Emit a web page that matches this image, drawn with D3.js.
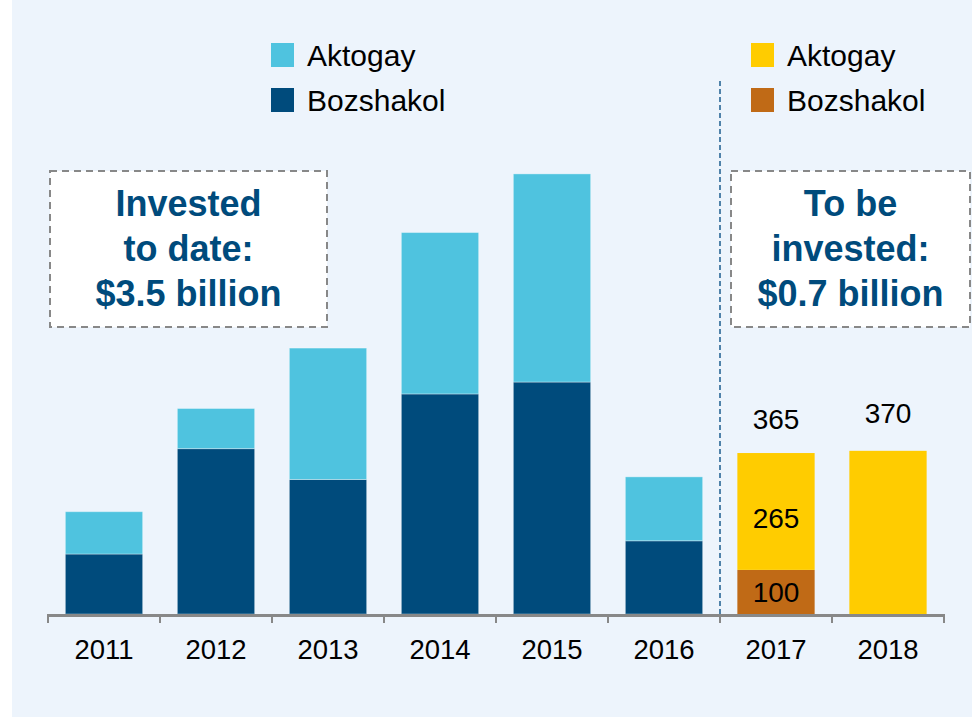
<!DOCTYPE html>
<html>
<head>
<meta charset="utf-8">
<script src="https://cdn.jsdelivr.net/npm/d3@7"></script>
<style>
  html, body { margin: 0; padding: 0; background: #ffffff; }
  svg { display: block; }
  text { font-family: "Liberation Sans", Arial, Helvetica, sans-serif; }
</style>
</head>
<body>
<svg id="chart" width="972" height="717"></svg>
<script>
// ---- data ----
const years = ["2011", "2012", "2013", "2014", "2015", "2016", "2017", "2018"];
const bozshakol = [136, 375, 305, 499, 526, 166, 100, 0];
const aktogay   = [96, 91, 298, 366, 472, 145, 265, 370];
const totalLabels = [null, null, null, null, null, null, "365", "370"];
const segmentLabelsBoz = [null, null, null, null, null, null, "100", null];
const segmentLabelsAkt = [null, null, null, null, null, null, "265", null];
const legendLeft = ["Aktogay", "Bozshakol"];
const legendRight = ["Aktogay", "Bozshakol"];
const boxLeftLines = ["Invested", "to date:", "$3.5 billion"];
const boxRightLines = ["To be", "invested:", "$0.7 billion"];
const forecastFrom = "2017";

// ---- styles ----
const colors = {
  bg: "#edf4fc",
  akt: "#4fc3df",
  boz: "#004b7c",
  aktF: "#ffcc00",
  bozF: "#c06a16",
  axis: "#888888",
  boxText: "#004b7c",
  divider: "#1b5c8e"
};

const svg = d3.select("#chart");
svg.append("rect").attr("x", 12).attr("y", 0).attr("width", 960).attr("height", 717).attr("fill", colors.bg);

const baseY = 614;
const x = d3.scaleBand().domain(years).range([48, 944]).paddingInner(0.31).paddingOuter(0.155);
const y = d3.scaleLinear().domain([0, 1000]).range([baseY, baseY - 441]);

const rows = years.map((yr, i) => ({
  year: yr, boz: bozshakol[i], akt: aktogay[i],
  forecast: years.indexOf(yr) >= years.indexOf(forecastFrom), i
}));
const stack = d3.stack().keys(["boz", "akt"])(rows);

// bars
stack.forEach(layer => {
  svg.append("g").selectAll("rect").data(layer).join("rect")
    .filter(d => d[1] - d[0] > 0)
    .attr("x", d => x(d.data.year))
    .attr("width", x.bandwidth())
    .attr("y", d => y(d[1]))
    .attr("height", d => y(d[0]) - y(d[1]))
    .attr("fill", d => layer.key === "boz"
      ? (d.data.forecast ? colors.bozF : colors.boz)
      : (d.data.forecast ? colors.aktF : colors.akt))
    .attr("stroke", d => d.data.forecast ? "none" : "rgba(255,255,255,0.35)")
    .attr("stroke-width", 1);
});

// segment labels
const labelFont = "28px";
rows.forEach(r => {
  if (segmentLabelsBoz[r.i]) {
    svg.append("text").attr("x", x(r.year) + x.bandwidth() / 2).attr("y", 602)
      .attr("text-anchor", "middle").attr("font-size", labelFont).attr("fill", "#000")
      .text(segmentLabelsBoz[r.i]);
  }
  if (segmentLabelsAkt[r.i]) {
    svg.append("text").attr("x", x(r.year) + x.bandwidth() / 2)
      .attr("y", (y(r.boz) + y(r.boz + r.akt)) / 2 + 17)
      .attr("text-anchor", "middle").attr("font-size", labelFont).attr("fill", "#000")
      .text(segmentLabelsAkt[r.i]);
  }
  if (totalLabels[r.i]) {
    svg.append("text").attr("x", x(r.year) + x.bandwidth() / 2)
      .attr("y", y(r.boz + r.akt) - (r.boz > 0 ? 24 : 28))
      .attr("text-anchor", "middle").attr("font-size", labelFont).attr("fill", "#000")
      .text(totalLabels[r.i]);
  }
});

// axis
const step = x.step();
const boundaries = years.map(yr => x(yr) - x.paddingInner() * step / 2).concat([x(years[years.length - 1]) + x.bandwidth() + x.paddingInner() * step / 2]);
const axisG = svg.append("g");
axisG.selectAll("line.tick").data(boundaries).join("line")
  .attr("x1", d => d).attr("x2", d => d).attr("y1", baseY).attr("y2", baseY + 9)
  .attr("stroke", colors.axis).attr("stroke-width", 2);
axisG.append("line").attr("x1", boundaries[0] - 1).attr("x2", boundaries[boundaries.length - 1] + 1)
  .attr("y1", baseY + 1.5).attr("y2", baseY + 1.5).attr("stroke", colors.axis).attr("stroke-width", 3);
axisG.selectAll("text").data(years).join("text")
  .attr("x", d => x(d) + x.bandwidth() / 2).attr("y", 659)
  .attr("text-anchor", "middle").attr("font-size", "27.5px").attr("fill", "#000")
  .text(d => d);

// divider
const divX = x(forecastFrom) - x.paddingInner() * step / 2;
svg.append("line").attr("x1", divX).attr("x2", divX).attr("y1", 81).attr("y2", baseY)
  .attr("stroke", colors.divider).attr("stroke-width", 1.5).attr("stroke-dasharray", "5,3");

// legends
function legend(x0, items, cols) {
  items.forEach((t, i) => {
    svg.append("rect").attr("x", x0).attr("y", 43 + i * 45).attr("width", 23).attr("height", 24).attr("fill", cols[i]);
    svg.append("text").attr("x", x0 + 36).attr("y", 66 + i * 45).attr("font-size", "30px").attr("fill", "#000").text(t);
  });
}
legend(271, legendLeft, [colors.akt, colors.boz]);
legend(751, legendRight, [colors.aktF, colors.bozF]);

// boxes
function box(x0, y0, w, h, lines) {
  svg.append("rect").attr("x", x0).attr("y", y0).attr("width", w).attr("height", h)
    .attr("fill", "#ffffff").attr("stroke", colors.axis).attr("stroke-width", 2).attr("stroke-dasharray", "7,5");
  lines.forEach((t, i) => {
    svg.append("text").attr("x", x0 + w / 2).attr("y", 216 + i * 45)
      .attr("text-anchor", "middle").attr("font-size", "36px").attr("font-weight", "bold")
      .attr("fill", colors.boxText).text(t);
  });
}
box(50, 171, 277, 156, boxLeftLines);
box(731, 171, 239, 156, boxRightLines);
</script>
</body>
</html>
